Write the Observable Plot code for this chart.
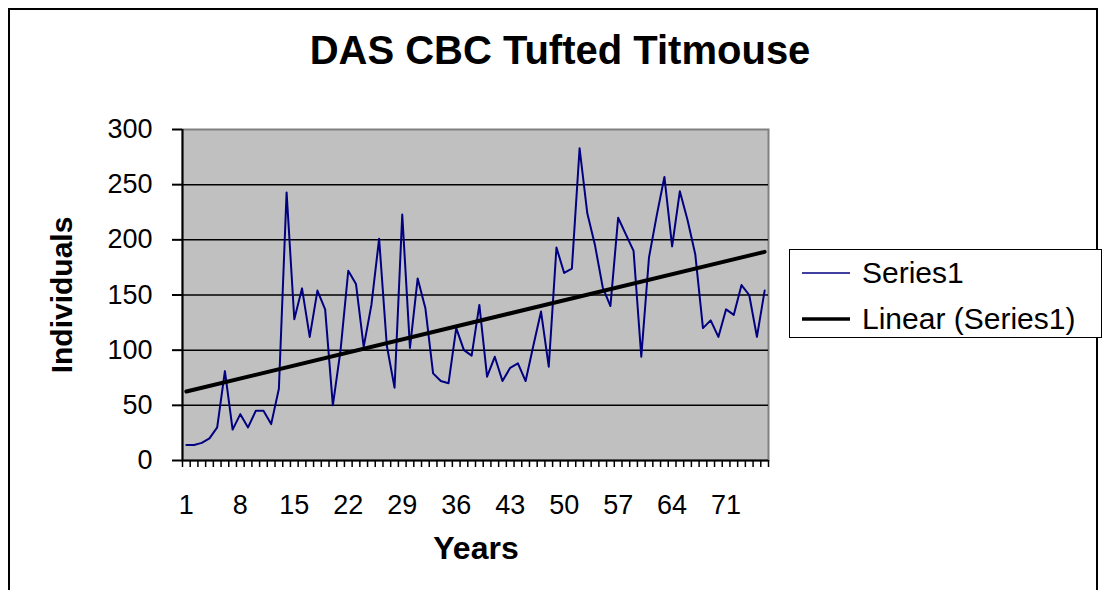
<!DOCTYPE html>
<html>
<head>
<meta charset="utf-8">
<script src="https://cdn.jsdelivr.net/npm/d3@7"></script>
<script src="https://cdn.jsdelivr.net/npm/@observablehq/plot@0.6"></script>
<style>
  html, body { margin: 0; padding: 0; background: white; }
  #wrap { position: relative; width: 1104px; height: 590px; overflow: hidden; font-family: "Liberation Sans", Arial, sans-serif; color: black; }
  #border { position: absolute; left: 8px; top: 8px; width: 1090px; height: 600px; border: 2px solid black; box-sizing: border-box; }
  #title { position: absolute; left: 0; width: 1120px; top: 26px; text-align: center; font-weight: bold; font-size: 40px; line-height: 48px; }
  #ylabel { position: absolute; left: 62px; top: 295px; transform: translate(-50%, -50%) rotate(-90deg); font-weight: bold; font-size: 30px; white-space: nowrap; }
  #xlabel { position: absolute; left: 476px; top: 548px; transform: translate(-50%, -50%); font-weight: bold; font-size: 32px; white-space: nowrap; }
  #legend { position: absolute; left: 789px; top: 249px; width: 313px; height: 89px; border: 1.5px solid black; box-sizing: border-box; background: white; }
  .item { position: absolute; left: 12px; height: 36px; display: flex; align-items: center; font-size: 30px; white-space: nowrap; }
  .item svg { margin-right: 12px; }
  #chart { position: absolute; left: 0; top: 0; }
</style>
</head>
<body>
<div id="wrap">
  <div id="chart"></div>
  <div id="border"></div>
  <div id="title"></div>
  <div id="ylabel"></div>
  <div id="xlabel"></div>
  <div id="legend"></div>
</div>
<script>
const titleText = "DAS CBC Tufted Titmouse";
const xTitle = "Years";
const yTitle = "Individuals";
const seriesNames = ["Series1", "Linear (Series1)"];

const years = [1,2,3,4,5,6,7,8,9,10,11,12,13,14,15,16,17,18,19,20,21,22,23,24,25,26,27,28,29,30,31,32,33,34,35,36,37,38,39,40,41,42,43,44,45,46,47,48,49,50,51,52,53,54,55,56,57,58,59,60,61,62,63,64,65,66,67,68,69,70,71,72,73,74,75,76];
const counts = [14,14,16,20,30,81,28,42,30,45,
                45,33,65,243,128,156,112,154,137,50,
                100,172,160,103,141,201,104,66,223,102,
                165,138,79,72,70,120,100,95,141,76,
                94,72,84,88,72,104,135,85,193,170,
                174,283,224,195,157,140,220,205,190,94,
                184,222,257,194,244,218,187,120,127,112,
                137,132,159,150,112,154];
const xTickLabels = [1,8,15,22,29,36,43,50,57,64,71];
const yTicks = [0,50,100,150,200,250,300];

const data = years.map((y, i) => ({year: y, count: counts[i]}));
const xDomain = [years[0] - 0.5, years[years.length - 1] + 0.5];
const boundaries = years.map(y => y - 0.5).concat([xDomain[1]]);
const tickFont = "'Liberation Sans Narrow', 'Liberation Sans', Arial, sans-serif";

const chart = Plot.plot({
  width: 1104,
  height: 590,
  marginLeft: 182,
  marginRight: 336,
  marginTop: 129,
  marginBottom: 130,
  x: {domain: xDomain},
  y: {domain: [yTicks[0], yTicks[yTicks.length - 1]]},
  style: {fontFamily: "'Liberation Sans', Arial, sans-serif", fontSize: "28px", background: "transparent", color: "black", overflow: "visible"},
  marks: [
    Plot.frame({fill: "#c0c0c0", stroke: "#808080", strokeWidth: 2}),
    Plot.gridY({ticks: yTicks.slice(1, -1), stroke: "black", strokeOpacity: 1, strokeWidth: 1.5}),
    Plot.ruleX([xDomain[0]], {stroke: "black", strokeWidth: 2}),
    Plot.ruleY([yTicks[0]], {stroke: "black", strokeWidth: 2}),
    Plot.axisY({ticks: yTicks, tickSize: 10, tickPadding: 20, label: null, fontSize: 27, fontFamily: tickFont, strokeWidth: 2}),
    Plot.axisX({ticks: boundaries, tickSize: 7, tickFormat: () => "", label: null, strokeWidth: 1.5}),
    Plot.axisX({ticks: xTickLabels, tickSize: 0, tickPadding: 34, label: null, fontSize: 27, fontFamily: tickFont}),
    Plot.line(data, {x: "year", y: "count", stroke: "#000080", strokeWidth: 2}),
    Plot.linearRegressionY(data, {x: "year", y: "count", stroke: "black", strokeWidth: 4, ci: 0})
  ]
});
document.getElementById("chart").appendChild(chart);

document.getElementById("title").textContent = titleText;
document.getElementById("ylabel").textContent = yTitle;
document.getElementById("xlabel").textContent = xTitle;

const legend = document.getElementById("legend");
const swatches = [{color: "#000080", width: 1.5}, {color: "black", width: 3.5}];
const itemTops = [5, 51];
seriesNames.forEach((name, i) => {
  const item = document.createElement("div");
  item.className = "item";
  item.style.top = itemTops[i] + "px";
  item.innerHTML = `<svg width="48" height="10"><line x1="0" x2="48" y1="5" y2="5" stroke="${swatches[i].color}" stroke-width="${swatches[i].width}"/></svg><span></span>`;
  item.querySelector("span").textContent = name;
  legend.appendChild(item);
});
</script>
</body>
</html>
